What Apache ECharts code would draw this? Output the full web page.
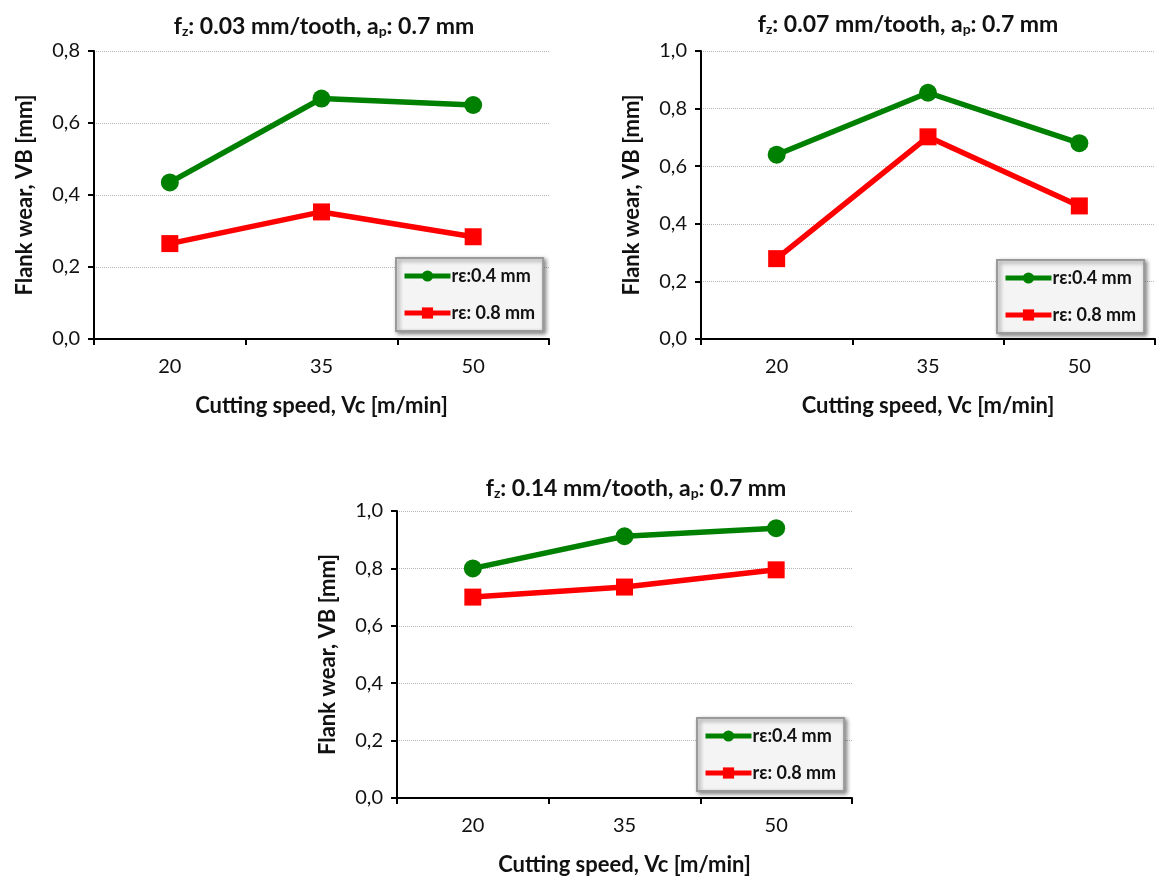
<!DOCTYPE html>
<html>
<head>
<meta charset="utf-8">
<script src="https://cdn.jsdelivr.net/npm/echarts@6/dist/echarts.min.js"></script>
<style>html,body{margin:0;padding:0;background:#fff}#c{width:1157px;height:877px}</style>
</head>
<body>
<div id="c"></div>
<script>
const categories = ['20', '35', '50'];
const seriesNames = ['rε:0.4 mm', 'rε: 0.8 mm'];
const titles = [
  ['0.03', '0.7'],
  ['0.07', '0.7'],
  ['0.14', '0.7']
];
const yMax = [0.8, 1.0, 1.0];
// chart 1: fz 0.03
const c1_r04 = [0.435, 0.668, 0.650];
const c1_r08 = [0.265, 0.353, 0.284];
// chart 2: fz 0.07
const c2_r04 = [0.640, 0.855, 0.680];
const c2_r08 = [0.279, 0.702, 0.462];
// chart 3: fz 0.14
const c3_r04 = [0.800, 0.912, 0.940];
const c3_r08 = [0.700, 0.735, 0.795];
const xName = 'Cutting speed, Vc [m/min]';
const yName = 'Flank wear, VB [mm]';

const FONT = 'Lato';
const data = [[c1_r04, c1_r08], [c2_r04, c2_r08], [c3_r04, c3_r08]];
const grids = [
  {left: 94, top: 51, width: 455, height: 288},
  {left: 701, top: 51, width: 454, height: 288},
  {left: 397, top: 511, width: 455, height: 289}
];
const titlePos = [[319, 5], [903, 3], [631, 467]];
const legendPos = [[396, 258], [997, 260], [697, 718]];

const option = {
  backgroundColor: '#fff',
  animation: false,
  textStyle: {fontFamily: FONT},
  title: titles.map((t, i) => ({
    text: '{b|f}{s|z}{b|: ' + t[0] + ' mm/tooth, a}{s|p}{b|: ' + t[1] + ' mm}',
    left: titlePos[i][0], top: titlePos[i][1], textAlign: 'center',
    textStyle: {
      rich: {
        b: {fontFamily: FONT, fontSize: 23, fontWeight: 'bold', color: '#111', lineHeight: 28, verticalAlign: 'bottom'},
        s: {fontFamily: FONT, fontSize: 14, fontWeight: 'bold', color: '#111', lineHeight: 28, verticalAlign: 'bottom', padding: [14, 0, 0, 0]}
      }
    }
  })),
  legend: legendPos.map((p, i) => ({
    data: seriesNames,
    orient: 'vertical',
    left: p[0], top: p[1],
    padding: [9, 8, 9, 6],
    itemGap: 19,
    itemWidth: 46, itemHeight: 14,
    backgroundColor: '#f4f4f4',
    borderColor: '#9a9a9a', borderWidth: 2,
    shadowColor: 'rgba(0,0,0,0.45)', shadowBlur: 4, shadowOffsetX: 2, shadowOffsetY: 2,
    lineStyle: {width: 5},
    textStyle: {fontFamily: FONT, fontSize: 18, fontWeight: 'bold', color: '#111', padding: [0, 0, 0, -4]},
    selectedMode: false
  })),
  grid: grids,
  xAxis: grids.map((g, i) => ({
    type: 'category', gridIndex: i, data: categories, boundaryGap: true,
    name: xName, nameLocation: 'middle', nameGap: 56,
    nameTextStyle: {fontFamily: FONT, fontSize: 22, fontWeight: 'bold', color: '#111'},
    axisLine: {lineStyle: {color: '#000', width: 2}},
    axisTick: {show: true, inside: false, length: 6, lineStyle: {color: '#000', width: 2}, alignWithLabel: false},
    axisLabel: {fontFamily: FONT, fontSize: 20, color: '#111', margin: 18},
    splitLine: {show: false}
  })),
  yAxis: grids.map((g, i) => ({
    type: 'value', gridIndex: i, min: 0, max: yMax[i], interval: 0.2,
    name: yName, nameLocation: 'middle', nameGap: 58, nameRotate: 90,
    nameTextStyle: {fontFamily: FONT, fontSize: 22, fontWeight: 'bold', color: '#111'},
    axisLine: {show: true, lineStyle: {color: '#000', width: 2}},
    axisTick: {show: true, inside: false, length: 6, lineStyle: {color: '#000', width: 2}},
    axisLabel: {fontFamily: FONT, fontSize: 20, color: '#111', margin: 14,
      formatter: v => v.toFixed(1).replace('.', ',')},
    splitLine: {show: true, lineStyle: {color: '#b5b5b5', type: 'dotted', width: 1}}
  })),
  series: []
};
data.forEach((pair, i) => {
  option.series.push({
    name: seriesNames[0], type: 'line', xAxisIndex: i, yAxisIndex: i,
    data: pair[0], symbol: 'circle', symbolSize: 18,
    lineStyle: {color: '#008000', width: 5.5},
    itemStyle: {color: '#008000'}
  });
  option.series.push({
    name: seriesNames[1], type: 'line', xAxisIndex: i, yAxisIndex: i,
    data: pair[1], symbol: 'rect', symbolSize: 17,
    lineStyle: {color: '#ff0000', width: 5.5},
    itemStyle: {color: '#ff0000'}
  });
});
const chart = echarts.init(document.getElementById('c'), null, {renderer: 'canvas'});
chart.setOption(option);
</script>
</body>
</html>
